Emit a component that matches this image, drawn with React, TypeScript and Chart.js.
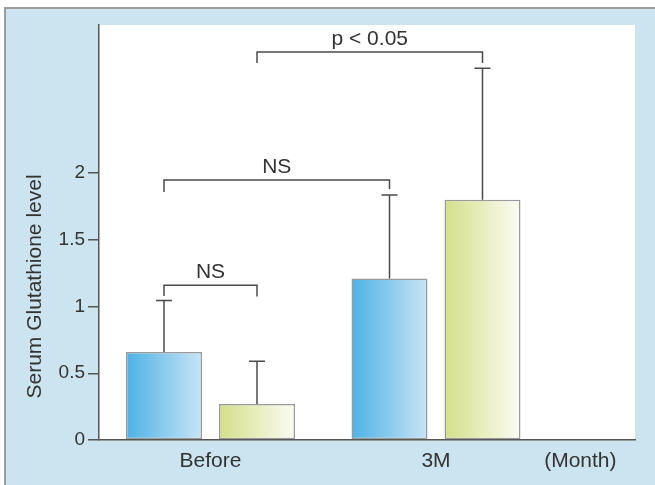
import React, { useEffect, useRef } from "react";
import { Chart, registerables } from "chart.js";

Chart.register(...registerables);

// ---- data ----
const categories = ["Before", "3M"];
const groupAMeans = [0.66, 1.21];
const groupASD = [0.385, 0.626];
const groupBMeans = [0.27, 1.8];
const groupBSD = [0.32, 0.985];
const yTicks = [0, 0.5, 1, 1.5, 2];
const yAxisTitle = "Serum Glutathione level";
const xUnitLabel = "(Month)";

// significance brackets: [datasetIndex, categoryIndex] endpoints
const bracketFrom = [[0, 0], [0, 0], [1, 0]];
const bracketTo = [[1, 0], [0, 1], [1, 1]];
const bracketLevels = [1.16, 1.948, 2.906];
const bracketLeftEnds = [1.079, 1.858, 2.824];
const bracketRightEnds = [1.075, 1.88, 2.824];
const bracketLabels = ["NS", "NS", "p < 0.05"];

const FONT = "'Liberation Sans', Arial, Helvetica, sans-serif";
const TEXT = "#333333";
const AXIS = "#555555";
const CAT_PCT = 0.8248;
const BAR_PCT = 0.817;

const gradStops = [
  ["#4db2e6", "#c8e4f5"],
  ["#d4df88", "#fbfcf4"],
];

function makeGradient(ctx: any) {
  const chart = ctx.chart;
  const xs = chart.scales?.x;
  const di = ctx.datasetIndex;
  const i = ctx.dataIndex;
  const [c0, c1] = gradStops[di] || gradStops[0];
  if (!xs || i === undefined) return c0;
  const spacing = xs.getPixelForValue(2) - xs.getPixelForValue(1);
  const slot = (spacing * CAT_PCT) / 2;
  const center = xs.getPixelForValue(i + 1) + (di - 0.5) * slot;
  const w = slot * BAR_PCT;
  const a = center - w / 2;
  const b = center + w / 2;
  if (!isFinite(a) || !isFinite(b) || b <= a) return c0;
  const g = chart.ctx.createLinearGradient(a, 0, b, 0);
  g.addColorStop(0, c0);
  g.addColorStop(1, c1);
  return g;
}

const bgPlugin = {
  id: "bgPlugin",
  beforeDraw(chart: any) {
    const { ctx, chartArea: a, width: W, height: H } = chart;
    ctx.save();
    ctx.fillStyle = "#ffffff";
    ctx.fillRect(0, 0, W, H);
    ctx.fillStyle = "#cce4ef";
    ctx.fillRect(5, 8, W - 5, H - 8);
    ctx.strokeStyle = "#9c9c9c";
    ctx.lineWidth = 2;
    ctx.beginPath();
    ctx.moveTo(5, H);
    ctx.lineTo(5, 8);
    ctx.lineTo(W, 8);
    ctx.stroke();
    ctx.fillStyle = "#ffffff";
    ctx.fillRect(a.left, a.top, a.right - a.left, a.bottom - a.top);
    ctx.restore();
  },
};

const overlayPlugin = {
  id: "overlayPlugin",
  afterDatasetsDraw(chart: any) {
    const { ctx } = chart;
    const ys = chart.scales.y;
    const sds = [groupASD, groupBSD];
    const means = [groupAMeans, groupBMeans];
    ctx.save();
    ctx.strokeStyle = "#4a4a4a";
    ctx.lineWidth = 1.5;
    // error bars
    for (let d = 0; d < 2; d++) {
      const meta = chart.getDatasetMeta(d);
      meta.data.forEach((el: any, i: number) => {
        const x = el.x;
        const yTop = ys.getPixelForValue(means[d][i] + sds[d][i]);
        const yBar = el.y;
        ctx.beginPath();
        ctx.moveTo(x, yBar);
        ctx.lineTo(x, yTop);
        ctx.moveTo(x - 8, yTop);
        ctx.lineTo(x + 8, yTop);
        ctx.stroke();
      });
    }
    // brackets
    ctx.fillStyle = TEXT;
    ctx.font = `21px ${FONT}`;
    ctx.textAlign = "center";
    ctx.textBaseline = "alphabetic";
    bracketLevels.forEach((lvl, k) => {
      const [d0, i0] = bracketFrom[k];
      const [d1, i1] = bracketTo[k];
      const x0 = chart.getDatasetMeta(d0).data[i0].x;
      const x1 = chart.getDatasetMeta(d1).data[i1].x;
      const y = ys.getPixelForValue(lvl);
      ctx.beginPath();
      ctx.moveTo(x0, ys.getPixelForValue(bracketLeftEnds[k]));
      ctx.lineTo(x0, y);
      ctx.lineTo(x1, y);
      ctx.lineTo(x1, ys.getPixelForValue(bracketRightEnds[k]));
      ctx.stroke();
      ctx.fillText(bracketLabels[k], (x0 + x1) / 2, y - 7);
    });
    ctx.restore();
  },
  afterDraw(chart: any) {
    const { ctx } = chart;
    const xs = chart.scales.x;
    const ys = chart.scales.y;
    ctx.save();
    ctx.fillStyle = TEXT;
    ctx.font = `21px ${FONT}`;
    ctx.textAlign = "center";
    ctx.textBaseline = "middle";
    ctx.fillText(xUnitLabel, xs.getPixelForValue(2.64), xs.top + 9 + 12.6);
    ctx.translate(35, ys.getPixelForValue(1.15));
    ctx.rotate(-Math.PI / 2);
    ctx.fillText(yAxisTitle, 0, 0);
    ctx.restore();
  },
};

export default function App() {
  const ref = useRef<HTMLCanvasElement>(null);
  useEffect(() => {
    if (!ref.current) return;
    const chart = new Chart(ref.current, {
      type: "bar",
      data: {
        datasets: [
          {
            label: "A",
            data: categories.map((_, i) => ({ x: i + 1, y: groupAMeans[i] })),
            backgroundColor: makeGradient as any,
            borderColor: "#9a9a9a",
            borderWidth: 1.5,
            borderSkipped: false,
          },
          {
            label: "B",
            data: categories.map((_, i) => ({ x: i + 1, y: groupBMeans[i] })),
            backgroundColor: makeGradient as any,
            borderColor: "#9a9a9a",
            borderWidth: 1.5,
            borderSkipped: false,
          },
        ],
      },
      options: {
        animation: false,
        responsive: false,
        events: [],
        categoryPercentage: CAT_PCT,
        barPercentage: BAR_PCT,
        layout: { padding: { top: 25, right: 20, left: 0, bottom: 0 } },
        plugins: {
          legend: { display: false },
          tooltip: { enabled: false },
          title: { display: false },
        },
        scales: {
          x: {
            type: "linear",
            offset: false,
            min: 0.5055,
            max: 2.8825,
            afterBuildTicks: (s: any) => {
              s.ticks = categories.map((_, i) => ({ value: i + 1 }));
            },
            afterFit: (s: any) => {
              s.height = 45;
            },
            grid: { display: false, drawTicks: false, tickLength: 0 },
            border: { display: true, color: AXIS, width: 1.5 },
            ticks: {
              padding: 9,
              color: TEXT,
              font: { family: FONT, size: 21 },
              maxRotation: 0,
              autoSkip: false,
              callback: (v: any) => categories[Math.round(v) - 1] ?? "",
            },
          },
          y: {
            type: "linear",
            min: 0,
            max: 3.109,
            afterBuildTicks: (s: any) => {
              s.ticks = yTicks.map((v) => ({ value: v }));
            },
            afterFit: (s: any) => {
              s.width = 99;
            },
            grid: {
              drawOnChartArea: false,
              drawTicks: true,
              tickLength: 11,
              color: AXIS,
              lineWidth: 1.5,
            },
            border: { display: true, color: AXIS, width: 1.5 },
            ticks: {
              padding: 3,
              color: TEXT,
              font: { family: FONT, size: 19 },
              callback: (v: any) => String(v),
            },
          },
        },
      },
      plugins: [bgPlugin, overlayPlugin],
    });
    return () => chart.destroy();
  }, []);
  return (
    <div style={{ position: "absolute", left: 0, top: 0, width: 655, height: 485 }}>
      <canvas ref={ref} width={655} height={485} style={{ display: "block" }} />
    </div>
  );
}
